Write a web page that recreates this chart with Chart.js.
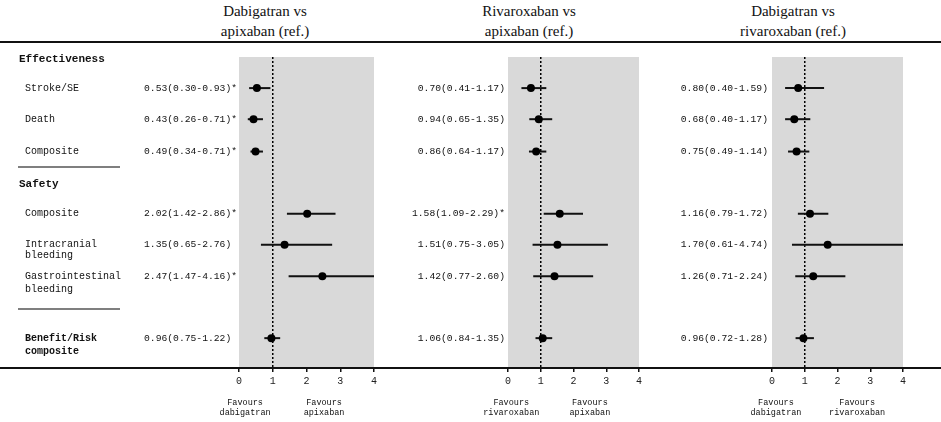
<!DOCTYPE html>
<html>
<head>
<meta charset="utf-8">
<script src="https://cdn.jsdelivr.net/npm/chart.js@4.4.0/dist/chart.umd.min.js"></script>
<style>
  html, body { margin: 0; padding: 0; background: #fff; }
  #wrap { position: relative; width: 941px; height: 422px; overflow: hidden; }
  #wrap canvas { position: absolute; left: 0; top: 0; }
  .rule { position: absolute; left: 0; width: 941px; height: 2px; background: #111; }
  .title { position: absolute; width: 200px; text-align: center; font-family: "Liberation Serif", serif;
           font-size: 15px; line-height: 20px; color: #111; }
</style>
</head>
<body>
<div id="wrap">
  <div class="title" style="left:165px; top:1px">Dabigatran vs<br>apixaban (ref.)</div>
  <div class="title" style="left:429px; top:1px">Rivaroxaban vs<br>apixaban (ref.)</div>
  <div class="title" style="left:693px; top:1px">Dabigatran vs<br>rivaroxaban (ref.)</div>
  <div class="rule" style="top:41px"></div>
  <div class="rule" style="top:367px"></div>
  <canvas id="c1" width="941" height="422"></canvas>
  <canvas id="c2" width="941" height="422"></canvas>
  <canvas id="c3" width="941" height="422"></canvas>
</div>
<script>
// outcomes and where they sit on the row axis
let outcomes = ["Stroke/SE", "Death", "Composite", "Composite", "Intracranial\nbleeding",
                "Gastrointestinal\nbleeding", "Benefit/Risk\ncomposite"];
let row_pos = [1, 2, 3.04, 5.04, 6.04, 7.05, 9.04];
let sections = ["Effectiveness", "Safety"];
let section_pos = [0.06, 4.1];
let separator_pos = [3.54, 8.1];

// hazard ratios with 95% CI
let dabi_apix_hr = [0.53, 0.43, 0.49, 2.02, 1.35, 2.47, 0.96];
let dabi_apix_lo = [0.30, 0.26, 0.34, 1.42, 0.65, 1.47, 0.75];
let dabi_apix_hi = [0.93, 0.71, 0.71, 2.86, 2.76, 4.16, 1.22];
let dabi_apix_sig = [true, true, true, true, false, true, false];

let riva_apix_hr = [0.70, 0.94, 0.86, 1.58, 1.51, 1.42, 1.06];
let riva_apix_lo = [0.41, 0.65, 0.64, 1.09, 0.75, 0.77, 0.84];
let riva_apix_hi = [1.17, 1.35, 1.17, 2.29, 3.05, 2.60, 1.35];
let riva_apix_sig = [false, false, false, true, false, false, false];

let dabi_riva_hr = [0.80, 0.68, 0.75, 1.16, 1.70, 1.26, 0.96];
let dabi_riva_lo = [0.40, 0.40, 0.49, 0.79, 0.61, 0.71, 0.72];
let dabi_riva_hi = [1.59, 1.17, 1.14, 1.72, 4.74, 2.24, 1.28];
let dabi_riva_sig = [false, false, false, false, false, false, false];

let x_ticks = [0, 1, 2, 3, 4];
let ref_value = 1;

const MONO = "'Liberation Mono', 'DejaVu Sans Mono', monospace";

const panels = [
  { id: "c1", left: 239, right: 374, hr: dabi_apix_hr, lo: dabi_apix_lo, hi: dabi_apix_hi, sig: dabi_apix_sig,
    favours: [["Favours", "dabigatran"], ["Favours", "apixaban"]], favour_at: [0.18, 2.52],
    value_x: 144, value_align: "left", row_labels: true },
  { id: "c2", left: 508, right: 639, hr: riva_apix_hr, lo: riva_apix_lo, hi: riva_apix_hi, sig: riva_apix_sig,
    favours: [["Favours", "rivaroxaban"], ["Favours", "apixaban"]], favour_at: [0.1, 2.5],
    value_x: 505, value_align: "right", row_labels: false },
  { id: "c3", left: 772, right: 903, hr: dabi_riva_hr, lo: dabi_riva_lo, hi: dabi_riva_hi, sig: dabi_riva_sig,
    favours: [["Favours", "dabigatran"], ["Favours", "rivaroxaban"]], favour_at: [0.12, 2.6],
    value_x: 768, value_align: "right", row_labels: false }
];

function label_text(p, i) {
  return p.hr[i].toFixed(2) + "(" + p.lo[i].toFixed(2) + "-" + p.hi[i].toFixed(2) + ")" + (p.sig[i] ? "*" : "");
}

const panel_plugin = {
  id: "panel_plugin",
  beforeDraw(chart) {
    const { ctx, chartArea } = chart;
    ctx.save();
    ctx.fillStyle = "#d9d9d9";
    ctx.fillRect(chartArea.left, chartArea.top, chartArea.right - chartArea.left, chartArea.bottom - chartArea.top);
    ctx.restore();
  },
  afterDraw(chart) {
    const p = chart.options.plugins.panel_plugin.panel;
    const { ctx } = chart;
    const ys = chart.scales.y;
    const xs = chart.scales.x;
    ctx.save();
    ctx.fillStyle = "#111";
    ctx.textBaseline = "middle";

    // value labels
    ctx.font = "9.7px " + MONO;
    ctx.textAlign = p.value_align;
    row_pos.forEach((r, i) => {
      ctx.fillText(label_text(p, i), p.value_x, ys.getPixelForValue(r));
    });

    // row labels, headers and separators (first panel only)
    if (p.row_labels) {
      ctx.textAlign = "left";
      sections.forEach((s, i) => {
        ctx.font = "bold 11px " + MONO;
        ctx.fillText(s, 19, ys.getPixelForValue(section_pos[i]));
      });
      outcomes.forEach((o, i) => {
        const bold = o.startsWith("Benefit");
        ctx.font = (bold ? "bold " : "") + "10px " + MONO;
        const lines = o.split("\n");
        const gap = o.startsWith("Intracranial") ? 11 : 13;
        lines.forEach((ln, k) => {
          ctx.fillText(ln, 25, ys.getPixelForValue(row_pos[i]) + k * gap);
        });
      });
      ctx.strokeStyle = "#555";
      ctx.lineWidth = 1.5;
      separator_pos.forEach(s => {
        const y = ys.getPixelForValue(s);
        ctx.beginPath();
        ctx.moveTo(18, y);
        ctx.lineTo(120, y);
        ctx.stroke();
      });
    }

    // favours labels under the axis
    ctx.font = "8.5px " + MONO;
    ctx.textAlign = "center";
    p.favours.forEach((f, i) => {
      const x = xs.getPixelForValue(p.favour_at[i]);
      f.forEach((ln, k) => ctx.fillText(ln, x, 403 + k * 10));
    });
    ctx.restore();
  }
};

function make_panel(p) {
  const datasets = [];
  // points
  datasets.push({
    data: p.hr.map((v, i) => ({ x: v, y: row_pos[i] })),
    pointRadius: 4, pointBackgroundColor: "#000", pointBorderWidth: 0, order: 0
  });
  // confidence intervals
  p.lo.forEach((lo, i) => {
    datasets.push({
      data: [{ x: lo, y: row_pos[i] }, { x: p.hi[i], y: row_pos[i] }],
      showLine: true, borderColor: "#111", borderWidth: 2, pointRadius: 0, order: 1
    });
  });
  // reference line
  datasets.push({
    data: [{ x: ref_value, y: 0 }, { x: ref_value, y: 10 }],
    showLine: true, borderColor: "#000", borderWidth: 1.5, borderDash: [2, 2], pointRadius: 0, order: 2
  });

  return new Chart(document.getElementById(p.id), {
    type: "scatter",
    data: { datasets: datasets },
    options: {
      responsive: false,
      animation: false,
      events: [],
      layout: { padding: { left: p.left, right: 941 - p.right, top: 57, bottom: 422 - 368 - 22 } },
      plugins: {
        legend: { display: false },
        tooltip: { enabled: false },
        panel_plugin: { panel: p }
      },
      scales: {
        x: {
          type: "linear", min: 0, max: 4,
          afterBuildTicks: s => { s.ticks = x_ticks.map(v => ({ value: v })); },
          afterFit: s => { s.height = 22; },
          ticks: { font: { family: MONO, size: 10 }, color: "#222", padding: 3 },
          grid: { drawOnChartArea: false, drawTicks: true, tickLength: 4, color: "#111", lineWidth: 1.5 },
          border: { display: true, color: "#111", width: 2 }
        },
        y: { type: "linear", min: 0, max: 10, reverse: true, display: false }
      }
    },
    plugins: [panel_plugin]
  });
}

panels.forEach(make_panel);
</script>
</body>
</html>
